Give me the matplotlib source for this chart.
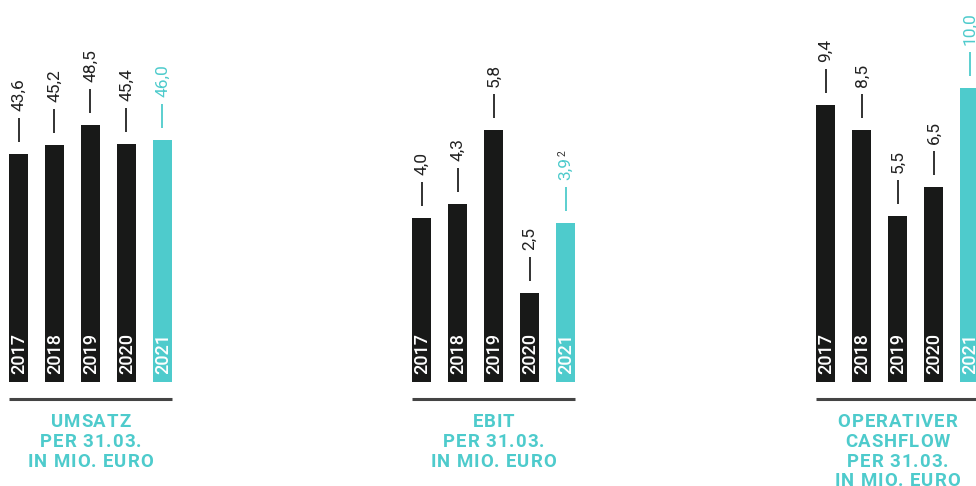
import matplotlib
matplotlib.use("Agg")
import matplotlib.pyplot as plt
import matplotlib.transforms as mtransforms
from matplotlib.font_manager import FontProperties, findfont
from matplotlib.ft2font import FT2Font

try:
    from matplotlib.ft2font import LoadFlags
    NO_HINT = LoadFlags.NO_HINTING
except Exception:  # older matplotlib
    from matplotlib.ft2font import LOAD_NO_HINTING as NO_HINT

plt.rcParams['font.family'] = ['Roboto', 'DejaVu Sans']

years = ["2017", "2018", "2019", "2020", "2021"]

umsatz_values = [43.6, 45.2, 48.5, 45.4, 46.0]
umsatz_labels = ["43,6", "45,2", "48,5", "45,4", "46,0"]

ebit_values = [4.0, 4.3, 5.8, 2.5, 3.9]
ebit_labels = ["4,0", "4,3", "5,8", "2,5", "3,9"]
ebit_footnotes = ["", "", "", "", "2"]

cash_values = [9.4, 8.5, 5.5, 6.5, 10.0]
cash_labels = ["9,4", "8,5", "5,5", "6,5", "10,0"]

titles = [["UMSATZ", "PER 31.03.", "IN MIO. EURO"],
          ["EBIT", "PER 31.03.", "IN MIO. EURO"],
          ["OPERATIVER", "CASHFLOW", "PER 31.03.", "IN MIO. EURO"]]

DARK = "#181918"
TEAL = "#4ecbcc"
LINE = "#444444"

W, H = 976, 486
DPI = 100
fig = plt.figure(figsize=(W / DPI, H / DPI), dpi=DPI)

pitch = 36.0
bar_px = 19.0
bw = bar_px / pitch
bottom_px = 381.5

TITLE_SIZE = 13.4
title_prop = FontProperties(family="Roboto", weight="bold", size=TITLE_SIZE)
_ft = FT2Font(findfont(title_prop))
_ft.set_size(TITLE_SIZE, DPI)


def advances(s):
    out = []
    for ch in s:
        g = _ft.load_char(ord(ch), flags=NO_HINT)
        out.append(g.linearHoriAdvance / 65536.0)
    return out


# tracking chosen so that "IN MIO. EURO" spans about 124 px
_ref = advances("IN MIO. EURO")
TRACK = max(0.0, (124.0 + 1.5 - sum(_ref)) / (len(_ref) - 1))


def px_offset(dx_px, dy_px):
    return mtransforms.ScaledTranslation(dx_px / DPI, dy_px / DPI, fig.dpi_scale_trans)


# (left px, values, labels, footnotes, y base value, px per unit)
panels = [
    (9, umsatz_values, umsatz_labels, [""] * 5, 5.2, 5.92),
    (412, ebit_values, ebit_labels, ebit_footnotes, 0.7, 49.4),
    (816, cash_values, cash_labels, [""] * 5, -0.33, 28.43),
]

pending_notes = []

for (left, vals, labs, notes, base, ppu), title in zip(panels, titles):
    width_px = 4 * pitch + bar_px
    ax = fig.add_axes([left / W, (H - bottom_px) / H, width_px / W, bottom_px / H])
    ax.set_xlim(-bw / 2, 4 + bw / 2)
    ax.set_ylim(base, base + bottom_px / ppu)
    ax.axis("off")
    colors = [DARK] * 4 + [TEAL]
    xs = list(range(len(vals)))
    ax.bar(xs, [v - base for v in vals], bottom=base, width=bw, color=colors,
           clip_on=False)
    for x, v, lab, note, c in zip(xs, vals, labs, notes, colors):
        tcol = "#222222" if c == DARK else TEAL
        ax.plot([x], [v], marker="|", ms=24 * 72 / DPI, mew=1.3, color=tcol,
                transform=ax.transData + px_offset(0, 24), clip_on=False)
        t = ax.annotate(lab, xy=(x, v), xytext=(0.3, 43 * 72 / DPI),
                        textcoords="offset points", rotation=90,
                        ha="center", va="bottom", fontsize=12.5,
                        color=tcol, annotation_clip=False)
        if note:
            pending_notes.append((t, note))
    for x, y in zip(xs, years):
        ax.annotate(y, xy=(x, base), xytext=(0.5, 5.5),
                    textcoords="offset points", rotation=90,
                    ha="center", va="bottom", fontsize=13, color="white",
                    fontweight="medium", annotation_clip=False)
    trans = mtransforms.blended_transform_factory(ax.transData, ax.transAxes)
    uy = (bottom_px - 399) / bottom_px
    ax.plot([-bw / 2, 4 + bw / 2], [uy, uy], transform=trans, color=LINE,
            lw=2.2, clip_on=False, solid_capstyle="butt")
    for k, line in enumerate(title):
        base_px = 427.3 + 19.7 * k
        ty = (bottom_px - base_px) / bottom_px
        adv = advances(line)
        total = sum(adv) + TRACK * (len(adv) - 1)
        cur = -total / 2.0
        for ch, a in zip(line, adv):
            if ch != " ":
                ax.annotate(ch, xy=(2, ty), xycoords=trans,
                            xytext=(cur * 72 / DPI, 0), textcoords="offset points",
                            ha="left", va="baseline", fontproperties=title_prop,
                            color=TEAL, annotation_clip=False)
            cur += a + TRACK

fig.canvas.draw()
renderer = fig.canvas.get_renderer()
for t, note in pending_notes:
    bb = t.get_window_extent(renderer)
    fig.text(bb.x0 - 1, bb.y1 + 1, note, transform=None, rotation=90,
             ha="left", va="bottom", fontsize=7.5, color="#333333")

fig.savefig("out.png", dpi=DPI)
